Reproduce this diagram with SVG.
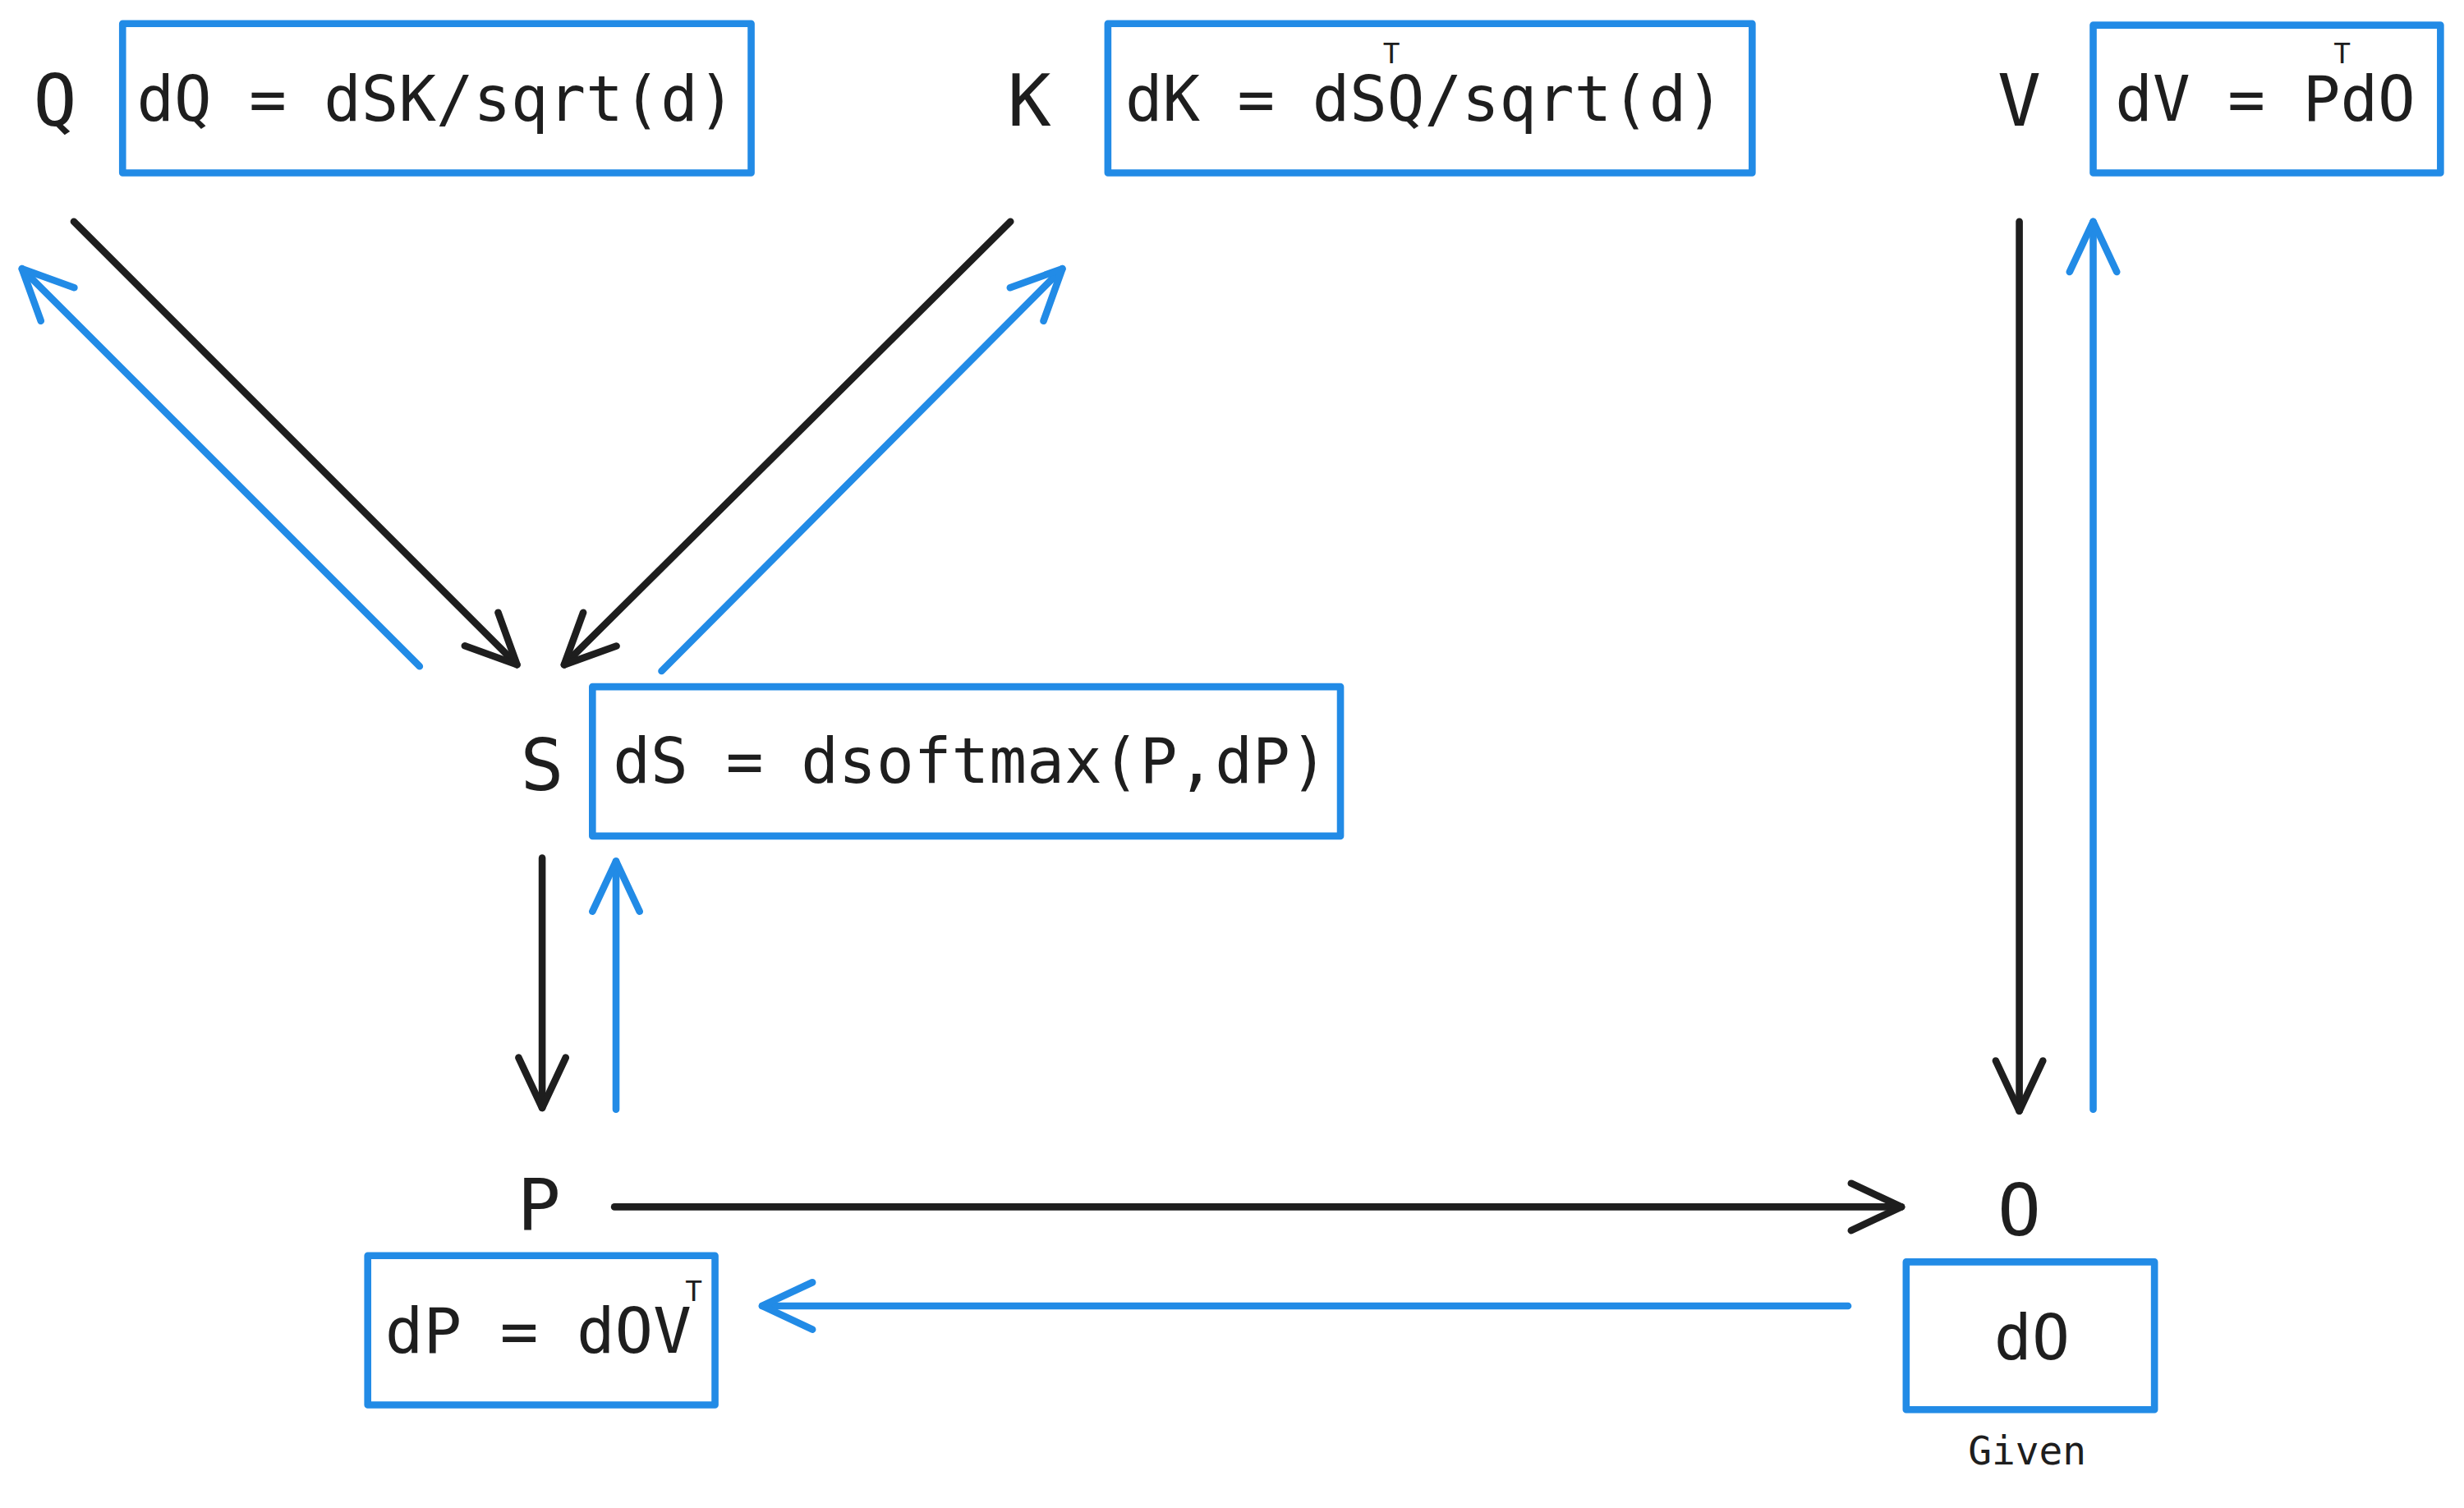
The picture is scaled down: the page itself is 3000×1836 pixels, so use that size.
<svg xmlns="http://www.w3.org/2000/svg" width="3000" height="1836" viewBox="0 0 3000 1836">
<defs>
<style>
.t{font-family:"DejaVu Sans Mono","Liberation Mono",monospace;fill:#1e1e1e}
.n{font-size:46px;text-anchor:middle}
.f{font-size:40px}
.s{font-size:18px}
.box{fill:none;stroke:#228be6;stroke-width:4.5;stroke-linejoin:round}
.k{stroke:#1e1e1e;stroke-width:4.5;fill:none;stroke-linecap:round;marker-end:url(#mk)}
.b{stroke:#228be6;stroke-width:4.5;fill:none;stroke-linecap:round;marker-end:url(#mb)}
</style>
<marker id="mk" markerUnits="userSpaceOnUse" viewBox="-40 -20 44 40" refX="0" refY="0" markerWidth="44" markerHeight="40" orient="auto" overflow="visible"><path d="M-32,-15 L0,0 L-32,15" fill="none" stroke="#1e1e1e" stroke-width="4.5" stroke-linecap="round" stroke-linejoin="round"/></marker>
<marker id="mb" markerUnits="userSpaceOnUse" viewBox="-40 -20 44 40" refX="0" refY="0" markerWidth="44" markerHeight="40" orient="auto" overflow="visible"><path d="M-32,-15 L0,0 L-32,15" fill="none" stroke="#228be6" stroke-width="4.5" stroke-linecap="round" stroke-linejoin="round"/></marker>
</defs>
<rect width="3000" height="1836" fill="#fff"/>
<g transform="scale(1.9133)">
<g id="connectors">
<path class="k" d="M47,141 L329,423"/>
<path class="k" d="M643,141 L359,423"/>
<path class="k" d="M345,546 L345,705"/>
<path class="k" d="M1285,141 L1285,707"/>
<path class="k" d="M391,768 L1210,768"/>
<path class="b" d="M267,424 L14,171"/>
<path class="b" d="M421,427 L676,171"/>
<path class="b" d="M392,706 L392,548"/>
<path class="b" d="M1332,706 L1332,141"/>
<path class="b" d="M1176,831 L485,831"/>
</g>
<g id="Q"><text class="t n" x="35" y="80">Q</text><rect class="box" x="78" y="15" width="400" height="95"/><text class="t f" x="87" y="77" textLength="381" lengthAdjust="spacingAndGlyphs">dQ = dSK/sqrt(d)</text></g>
<g id="K"><text class="t n" x="655" y="80">K</text><rect class="box" x="705" y="15" width="410" height="95"/><text class="t f" x="716" y="77" textLength="381" lengthAdjust="spacingAndGlyphs">dK = dSQ/sqrt(d)</text><text class="t s" x="880" y="40">T</text></g>
<g id="V"><text class="t n" x="1285" y="80">V</text><rect class="box" x="1332" y="16" width="221" height="94"/><text class="t f" x="1346" y="77" textLength="191" lengthAdjust="spacingAndGlyphs">dV = PdO</text><text class="t s" x="1485" y="40">T</text></g>
<g id="S"><text class="t n" x="345" y="503">S</text><rect class="box" x="377" y="437" width="476" height="95"/><text class="t f" x="390" y="498" textLength="455" lengthAdjust="spacingAndGlyphs">dS = dsoftmax(P,dP)</text></g>
<g id="P"><text class="t n" x="343" y="783">P</text><rect class="box" x="234" y="799" width="221" height="95"/><text class="t f" x="245" y="861" textLength="195" lengthAdjust="spacingAndGlyphs">dP = dOV</text><text class="t s" x="436" y="828">T</text></g>
<g id="O"><text class="t n" x="1285" y="786">O</text><rect class="box" x="1213" y="803" width="158" height="94"/><text class="t f" x="1293" y="865" text-anchor="middle">dO</text><text class="t" x="1290" y="932" font-size="25" text-anchor="middle">Given</text></g>
</g>
</svg>
